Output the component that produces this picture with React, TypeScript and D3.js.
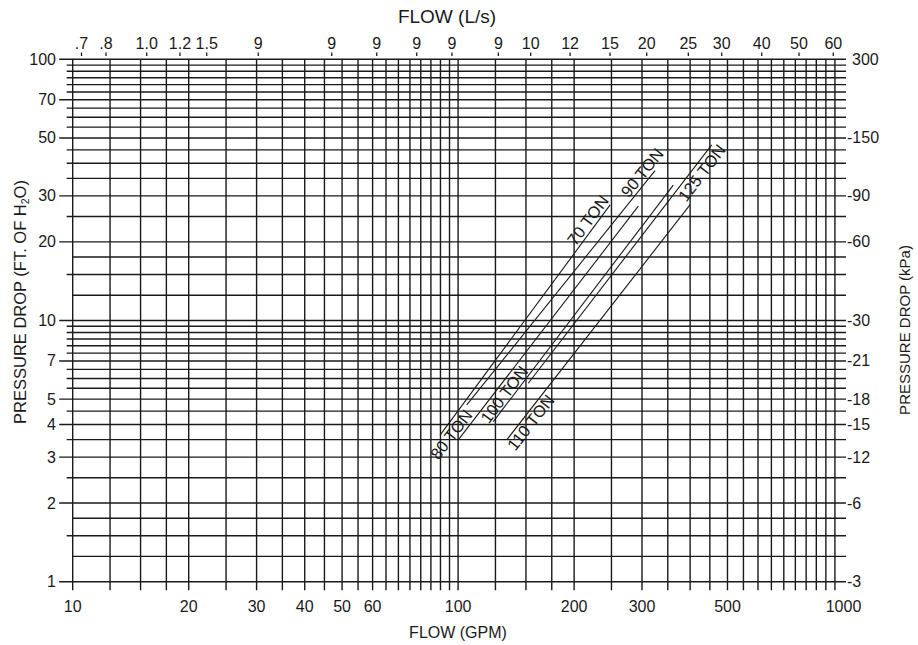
import * as d3 from "d3";

// grid lines (GPM across, ft of water up)
const gridFlow = [
  10, 12.5, 15, 17.5, 20, 25, 30, 35, 40, 45, 50, 55, 60, 65, 70, 75, 80, 85, 90, 95,
  100, 125, 150, 175, 200, 250, 300, 350, 400, 450, 500, 550, 600, 650, 700, 750, 800, 850, 900, 950,
];
const gridDrop = [
  1, 1.25, 1.5, 1.75, 2, 2.5, 3, 3.5, 4, 4.5, 5, 5.5, 6, 6.5, 7, 7.5, 8, 8.5, 9, 9.5,
  10, 12.5, 15, 17.5, 20, 25, 30, 35, 40, 45, 50, 55, 60, 65, 70, 75, 80, 85, 90, 95, 100,
];
const dropFlush = [1.25, 1.75, 12.5, 17.5];

// axis labels
const bottomTicks = [10, 20, 30, 40, 50, 60, 100, 200, 300, 500, 1000];
const leftTicks = [100, 70, 50, 30, 20, 10, 7, 5, 4, 3, 2, 1];
const rightTickDrop = [100, 50, 30, 20, 10, 7, 5, 4, 3, 2, 1];
const rightTickLabels = ["300", "-150", "-90", "-60", "-30", "-21", "-18", "-15", "-12", "-6", "-3"];
const topTickGpm = [
  10.54, 12.2, 15.56, 18.98, 22.27, 30.3, 47.0, 61.5, 78.1, 96.4,
  127.2, 154.3, 195.2, 247.8, 308.6, 395.7, 483, 613.5, 766.5, 940.8,
];
const topTickLabels = [
  ".7", ".8", "1.0", "1.2", "1.5", "9", "9", "9", "9", "9",
  "9", "10", "12", "15", "20", "25", "30", "40", "50", "60",
];

// chiller curves: end points
const tonNames = ["70 TON", "80 TON", "90 TON", "100 TON", "110 TON", "125 TON"];
const flowLow = [89.8, 100.1, 105.3, 123.4, 133.7, 152.1];
const dropLow = [3.64, 3.49, 4.75, 4.1, 3.49, 5.75];
const flowHigh = [248, 293.5, 324.3, 361.7, 399.6, 455];
const dropHigh = [27.7, 27.4, 37.5, 33.0, 27.7, 47.0];

// where each curve name sits
const labelPlace = [
  { end: "hi", anchor: "end", dx: 3, dy: -3 },
  { end: "lo", anchor: "middle", dx: 0, dy: -3 },
  { end: "hi", anchor: "end", dx: 19, dy: -3 },
  { end: "lo", anchor: "start", dx: -5, dy: -2 },
  { end: "lo", anchor: "start", dx: -4, dy: 14 },
  { end: "hi", anchor: "end", dx: 5, dy: 15 },
];

const font = "'Liberation Sans', Arial, Helvetica, sans-serif";
const ink = "#1a1a1a";

export default function App() {
  const width = 918;
  const height = 645;

  const x = d3.scaleLog().domain([10, 1000]).range([72.7, 843.5]);
  const y = d3.scaleLog().domain([1, 100]).range([581.7, 59.3]);

  const line = d3
    .line<[number, number]>()
    .x((d) => x(d[0]))
    .y((d) => y(d[1]));

  const x0 = x(10);
  const xEnd = x(1000) + 2.5;

  return (
    <svg
      width={width}
      height={height}
      style={{ position: "absolute", left: 0, top: 0, background: "#fff" }}
      fontFamily={font}
    >
      <rect width={width} height={height} fill="#fff" />

      {/* horizontal grid */}
      {gridDrop.map((v) => {
        const major = leftTicks.includes(v);
        const flush = dropFlush.includes(v);
        const start = major ? x0 - 13.5 : flush ? x0 : x0 - 6;
        return (
          <line
            key={"h" + v}
            x1={start}
            x2={xEnd}
            y1={y(v)}
            y2={y(v)}
            stroke={ink}
            strokeWidth={1.4}
          />
        );
      })}

      {/* vertical grid */}
      {gridFlow.map((v) => (
        <line
          key={"v" + v}
          x1={x(v)}
          x2={x(v)}
          y1={y(100)}
          y2={y(1) + 8.5}
          stroke={ink}
          strokeWidth={1.4}
        />
      ))}

      {/* top L/s ticks */}
      {topTickGpm.map((g, i) => (
        <g key={"t" + i}>
          <line x1={x(g)} x2={x(g)} y1={52.5} y2={56} stroke={ink} strokeWidth={1.3} />
          <text x={x(g)} y={48.5} textAnchor="middle" fontSize={16} fill={ink}>
            {topTickLabels[i]}
          </text>
        </g>
      ))}

      {/* bottom labels */}
      {bottomTicks.map((v) => (
        <text key={"b" + v} x={x(v)} y={612} textAnchor="middle" fontSize={16} fill={ink}>
          {v}
        </text>
      ))}

      {/* left labels */}
      {leftTicks.map((v) => (
        <text key={"l" + v} x={56} y={y(v) + 5.5} textAnchor="end" fontSize={16} fill={ink}>
          {v}
        </text>
      ))}

      {/* right labels */}
      {rightTickDrop.map((v, i) => {
        const s = rightTickLabels[i];
        return (
          <text
            key={"r" + v}
            x={xEnd + (s.startsWith("-") ? 1 : 6)}
            y={y(v) + 5.5}
            textAnchor="start"
            fontSize={16}
            fill={ink}
          >
            {s}
          </text>
        );
      })}

      {/* curves */}
      {tonNames.map((name, i) => {
        const lo: [number, number] = [flowLow[i], dropLow[i]];
        const hi: [number, number] = [flowHigh[i], dropHigh[i]];
        const ang =
          (Math.atan2(y(hi[1]) - y(lo[1]), x(hi[0]) - x(lo[0])) * 180) / Math.PI;
        const p = labelPlace[i];
        const base = p.end === "hi" ? hi : lo;
        return (
          <g key={name}>
            <path d={line([lo, hi]) ?? ""} fill="none" stroke={ink} strokeWidth={1.1} />
            <text
              transform={`translate(${x(base[0])},${y(base[1])}) rotate(${ang})`}
              x={p.dx}
              y={p.dy}
              textAnchor={p.anchor}
              fontSize={16.5}
              fill={ink}
            >
              {name}
            </text>
          </g>
        );
      })}

      {/* titles */}
      <text x={447} y={22.5} textAnchor="middle" fontSize={19} fill={ink}>
        FLOW (L/s)
      </text>
      <text x={458} y={638} textAnchor="middle" fontSize={16} fill={ink}>
        FLOW (GPM)
      </text>
      <text
        transform="translate(25.5,302) rotate(-90)"
        textAnchor="middle"
        fontSize={16.5}
        fill={ink}
      >
        PRESSURE DROP (FT. OF H<tspan fontSize={10.5} dy={3}>2</tspan>
        <tspan dy={-3}>O)</tspan>
      </text>
      <text
        transform="translate(910,330) rotate(-90)"
        textAnchor="middle"
        fontSize={15}
        fill={ink}
      >
        PRESSURE DROP (kPa)
      </text>
    </svg>
  );
}
